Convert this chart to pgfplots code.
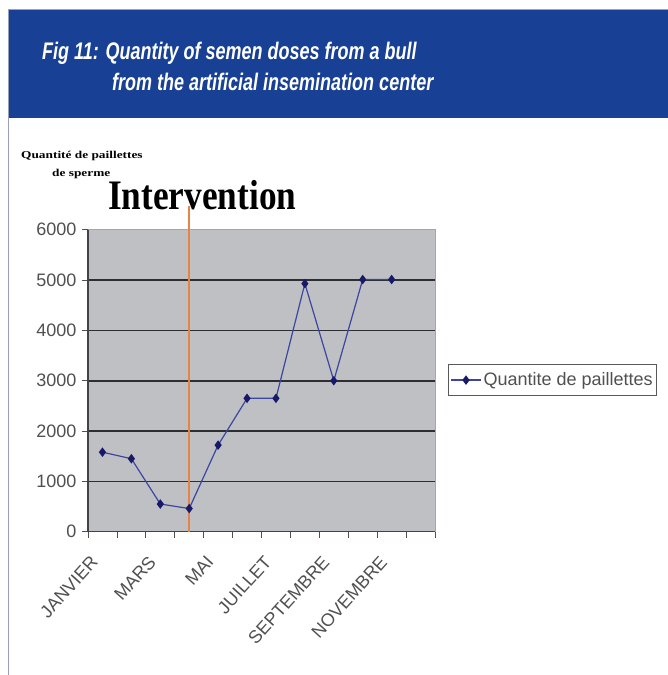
\documentclass[border=0pt]{standalone}
\usepackage{fontspec}
\setmainfont{Liberation Sans}
\usepackage{pgfplots}
\pgfplotsset{compat=1.18}
\newfontfamily\headfont[FakeStretch=0.75]{Liberation Sans}
\newfontfamily\serifbig[FakeStretch=0.84]{Liberation Serif}
\newfontfamily\serifsmall[FakeStretch=1.27]{Liberation Serif}
\definecolor{headblue}{RGB}{24,64,148}
\definecolor{framegray}{RGB}{150,160,185}
\definecolor{plotbg}{RGB}{190,192,196}
\definecolor{gridc}{RGB}{45,45,50}
\definecolor{textgray}{RGB}{80,80,80}
\definecolor{linec}{RGB}{60,70,160}
\definecolor{markc}{RGB}{25,25,105}
\definecolor{orangec}{RGB}{232,130,70}
\begin{document}
\begin{tikzpicture}[x=1pt,y=1pt]
\fill[white] (0,0) rectangle (668,675);
\fill[headblue] (8,557) rectangle (668,665);
\draw[framegray, line width=1.2] (8.6,0) -- (8.6,665);
\draw[framegray, line width=1] (8,665.5) -- (668,665.5);
\node[anchor=base west, text=white, inner sep=0] at (42,615.5) {\headfont\bfseries\itshape\fontsize{24}{28}\selectfont Fig 11: Quantity of semen doses from a bull};
\node[anchor=base west, text=white, inner sep=0] at (112,584.3) {\headfont\bfseries\itshape\fontsize{24}{28}\selectfont from the artificial insemination center};
\node[anchor=base west, inner sep=0] at (21,516) {\serifsmall\bfseries\fontsize{10.5}{12}\selectfont Quantité de paillettes};
\node[anchor=base west, inner sep=0] at (52,498) {\serifsmall\bfseries\fontsize{10.5}{12}\selectfont de sperme};
\node[anchor=base west, inner sep=0] at (108,465.8) {\serifbig\bfseries\fontsize{42}{46}\selectfont Intervention};
\begin{axis}[
  at={(88pt,143.3pt)}, anchor=south west, scale only axis,
  width=347pt, height=302pt,
  xmin=-0.5, xmax=11.5, ymin=0, ymax=6000,
  clip=false,
  axis background/.style={fill=plotbg},
  axis line style={draw=none},
  xtick={0,...,11},
  xticklabels={JANVIER,,MARS,,MAI,,JUILLET,,SEPTEMBRE,,NOVEMBRE,},
  minor xtick={-0.5,0.5,...,11.5},
  ytick={0,1000,...,6000},
  extra y ticks={1000,2000,3000,4000,5000},
  extra y tick labels={},
  extra y tick style={grid=major, major tick length=0pt},
  major grid style={draw=gridc, line width=1.6pt},
  xtick pos=left, ytick pos=left,
  tick align=outside,
  major x tick style={draw=none},
  minor x tick style={draw=textgray, line width=0.8pt},
  minor tick length=6pt,
  major tick length=6pt,
  y tick style={draw=textgray, line width=0.8pt},
  /pgf/number format/assume math mode=true,
  /pgf/number format/1000 sep={},
  yticklabel style={font=\fontsize{18}{18}\selectfont, text=textgray, xshift=-2pt},
  xticklabel style={font=\fontsize{18}{18}\selectfont, text=textgray, xshift=-13pt, yshift=-12pt, rotate=48, anchor=north east},
  legend style={at={(1.0375,0.502)}, anchor=west, draw=black!65, line width=0.8pt, fill=white,
    font=\fontsize{18}{18}\selectfont, text=textgray, inner xsep=2pt, inner ysep=6pt},
  legend cell align=left,
  legend image code/.code={\draw[mark repeat=2,mark phase=2] plot coordinates {(0pt,0pt) (15pt,0pt) (30pt,0pt)};},
]
\addplot[color=linec, line width=1.2pt, mark=diamond*, mark size=3.8pt,
  mark options={draw=markc, fill=markc}]
  coordinates {(0,1580) (1,1450) (2,550) (3,460) (4,1720) (5,2650) (6,2650) (7,4930) (8,3000) (9,5010) (10,5010)};
\addlegendentry{Quantite de paillettes}
\draw[draw=black!35, line width=1pt] (axis cs:-0.5,6000) -- (axis cs:11.5,6000) -- (axis cs:11.5,0);
\draw[draw=gridc!90, line width=1.4pt] (axis cs:-0.5,6000) -- (axis cs:-0.5,0) -- (axis cs:11.5,0);
\draw[orangec, line width=2.2pt] (axis cs:3,0) -- (axis cs:3,6475);
\end{axis}
\pgfresetboundingbox
\path[use as bounding box] (0,0) rectangle (668,675);
\end{tikzpicture}
\end{document}
